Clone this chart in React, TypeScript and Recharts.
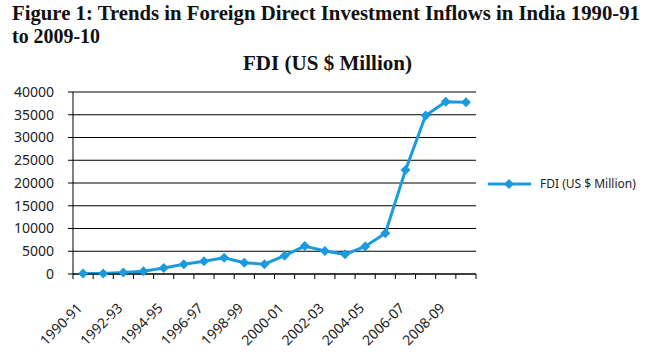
import { LineChart, Line, XAxis, YAxis, CartesianGrid } from "recharts";

const years = [
  "1990-91", "1991-92", "1992-93", "1993-94", "1994-95", "1995-96", "1996-97",
  "1997-98", "1998-99", "1999-00", "2000-01", "2001-02", "2002-03", "2003-04",
  "2004-05", "2005-06", "2006-07", "2007-08", "2008-09", "2009-10",
];
const fdiValues = [
  100, 130, 320, 590, 1310, 2140, 2820, 3560, 2460, 2160, 4030, 6130, 5040,
  4320, 6050, 8960, 22830, 34840, 37840, 37760,
];
const yTicks = [0, 5000, 10000, 15000, 20000, 25000, 30000, 35000, 40000];
const seriesName = "FDI (US $ Million)";
const titleLine1 = "Figure 1: Trends in Foreign Direct Investment Inflows in India 1990-91";
const titleLine2 = "to 2009-10";
const chartTitle = "FDI (US $ Million)";

const data = years.map((year, i) => ({ year, fdi: fdiValues[i] }));

const BLUE = "#1b9bdd";
const TICK_FONT = "'Noto Sans', 'Open Sans', sans-serif";

function Diamond(props: any) {
  const { cx, cy, index } = props;
  if (cx == null || cy == null) return null;
  const r = 5;
  return (
    <polygon
      key={`d-${index}`}
      points={`${cx},${cy - r} ${cx + r},${cy} ${cx},${cy + r} ${cx - r},${cy}`}
      fill={BLUE}
    />
  );
}

function XTick(props: any) {
  const { x, y, index, payload } = props;
  const half = payload && payload.offset ? payload.offset : 10.08;
  const ly = y + 35;
  return (
    <g>
      <line x1={x - half} y1={y} x2={x - half} y2={y + 5} stroke="#000" />
      {index === years.length - 1 && (
        <line x1={x + half} y1={y} x2={x + half} y2={y + 5} stroke="#000" />
      )}
      {index % 2 === 0 && (
        <text
          x={x}
          y={ly}
          transform={`rotate(-45 ${x} ${ly})`}
          textAnchor="end"
          fontSize={14}
          fontFamily={TICK_FONT}
          fill="#222"
        >
          {payload.value}
        </text>
      )}
    </g>
  );
}

// legend drawn by hand so it doesn't eat into the plot area
function LegendBox() {
  return (
    <div style={{ position: "absolute", left: 486, top: 175, display: "flex", alignItems: "center" }}>
      <svg width={50} height={12}>
        <line x1={2} y1={6} x2={45} y2={6} stroke={BLUE} strokeWidth={3} />
        <polygon points="23,1 28,6 23,11 18,6" fill={BLUE} />
      </svg>
      <span style={{ fontFamily: TICK_FONT, fontSize: 12, color: "#222", marginLeft: 4 }}>
        {seriesName}
      </span>
    </div>
  );
}

export default function App() {
  return (
    <div style={{ position: "absolute", left: 0, top: 0, width: 650, height: 358, background: "#fff" }}>
      <LineChart
        width={650}
        height={358}
        data={data}
        margin={{ top: 92, right: 174, left: 0, bottom: 0 }}
      >
        <CartesianGrid vertical={false} stroke="#000" strokeWidth={1} />
        <XAxis
          dataKey="year"
          scale="band"
          interval={0}
          height={84}
          tickSize={0}
          tickMargin={0}
          tickLine={false}
          axisLine={{ stroke: "#000" }}
          tick={<XTick />}
        />
        <YAxis
          width={73}
          domain={[0, 40000]}
          ticks={yTicks}
          interval={0}
          tickSize={5}
          tickMargin={14}
          axisLine={{ stroke: "#000" }}
          tickLine={{ stroke: "#000" }}
          tick={{ fontSize: 14, fontFamily: TICK_FONT, fill: "#222" }}
        />
        <Line
          type="linear"
          dataKey="fdi"
          name={seriesName}
          stroke={BLUE}
          strokeWidth={3}
          dot={<Diamond />}
          activeDot={false}
          isAnimationActive={false}
        />
      </LineChart>
      <LegendBox />
      <svg
        width={650}
        height={80}
        style={{ position: "absolute", left: 0, top: 0, pointerEvents: "none" }}
      >
        <g fontFamily="'Liberation Serif', 'Times New Roman', serif" fontWeight="bold" fill="#111">
          <text x={12} y={19.5} fontSize={21} textLength={628} lengthAdjust="spacingAndGlyphs">
            {titleLine1}
          </text>
          <text x={12} y={42.5} fontSize={21} textLength={88} lengthAdjust="spacingAndGlyphs">
            {titleLine2}
          </text>
          <text x={243} y={70} fontSize={20} textLength={169} lengthAdjust="spacingAndGlyphs">
            {chartTitle}
          </text>
        </g>
      </svg>
    </div>
  );
}
